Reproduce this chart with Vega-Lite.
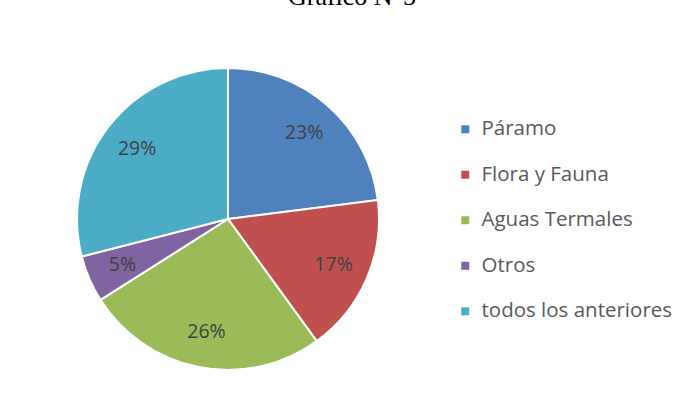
{
  "$schema": "https://vega.github.io/schema/vega-lite/v6.json",
  "width": 456,
  "height": 438,
  "autosize": "none",
  "padding": {"left": 0, "top": 0, "right": 227, "bottom": -21},
  "background": "white",
  "title": {
    "text": "Gráfico N°5",
    "font": "Liberation Serif",
    "fontSize": 26,
    "fontWeight": "normal",
    "color": "#000000",
    "baseline": "alphabetic",
    "offset": 0,
    "dy": 31,
    "dx": 124
  },
  "data": {
    "values": [
      {"categoria": "Páramo", "valor": 0.23, "orden": 1},
      {"categoria": "Flora y Fauna", "valor": 0.17, "orden": 2},
      {"categoria": "Aguas Termales", "valor": 0.26, "orden": 3},
      {"categoria": "Otros", "valor": 0.05, "orden": 4},
      {"categoria": "todos los anteriores", "valor": 0.29, "orden": 5}
    ]
  },
  "encoding": {
    "theta": {"field": "valor", "type": "quantitative", "stack": true},
    "order": {"field": "orden", "type": "quantitative"}
  },
  "layer": [
    {
      "mark": {"type": "arc", "outerRadius": 151, "stroke": "white", "strokeWidth": 2},
      "encoding": {
        "color": {
          "field": "categoria",
          "type": "nominal",
          "sort": ["Páramo", "Flora y Fauna", "Aguas Termales", "Otros", "todos los anteriores"],
          "scale": {
            "domain": ["Páramo", "Flora y Fauna", "Aguas Termales", "Otros", "todos los anteriores"],
            "range": ["#4F81BD", "#C0504D", "#9BBB59", "#8064A2", "#4BACC6"]
          },
          "legend": {
            "title": null,
            "orient": "none",
            "legendX": 455,
            "legendY": 119,
            "padding": 0,
            "symbolType": "square",
            "symbolSize": 64,
            "symbolStrokeWidth": 0,
            "labelFont": "Open Sans",
            "labelFontSize": 20.5,
            "labelColor": "#595959",
            "labelOffset": 6,
            "labelLimit": 300,
            "rowPadding": 24.5
          }
        }
      }
    },
    {
      "mark": {"type": "text", "radius": 115, "font": "Open Sans", "fontSize": 19.5, "color": "#404040"},
      "encoding": {
        "text": {"field": "valor", "type": "quantitative", "format": ".0%"}
      }
    }
  ]
}
